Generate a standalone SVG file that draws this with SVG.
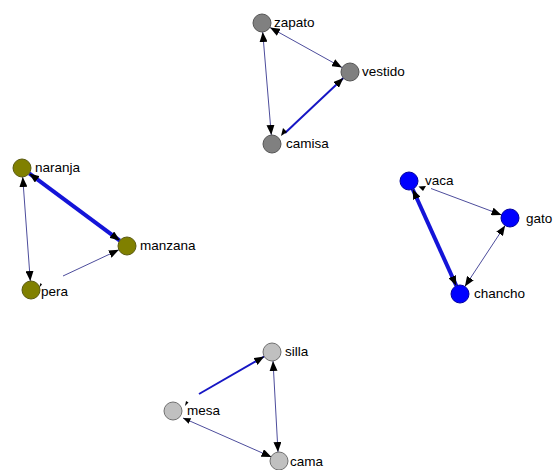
<svg xmlns="http://www.w3.org/2000/svg" width="557" height="470" viewBox="0 0 557 470">
  <defs>
    <marker id="arr" viewBox="0 0 10 8" refX="10" refY="4" markerWidth="10" markerHeight="8" markerUnits="userSpaceOnUse" orient="auto-start-reverse">
      <path d="M0,0 L10,4 L0,8 Z" fill="#000"/>
    </marker>
    <marker id="arrs" viewBox="0 0 10 8" refX="10" refY="4" markerWidth="8" markerHeight="6" markerUnits="userSpaceOnUse" orient="auto-start-reverse">
      <path d="M0,0 L10,4 L0,8 Z" fill="#000"/>
    </marker>
  </defs>
  <style>
    .thin { stroke: #4d4d9c; stroke-width: 1; fill: none; }
    .mid { stroke: #1616c4; stroke-width: 2; fill: none; }
    .thick { stroke: #1414d8; stroke-width: 4; fill: none; }
    .tick { fill: #000; }
    .n { stroke: #555; stroke-width: 1; }
    .gray { fill: #808080; }
    .olive { fill: #808000; stroke: #5a5a10; }
    .blue { fill: #0000ff; stroke: #0000a0; }
    .light { fill: #c0c0c0; stroke: #707070; }
    text { font-family: "Liberation Sans", Arial, sans-serif; font-size: 13.5px; fill: #000; }
  </style>
  <rect width="557" height="470" fill="#fff"/>

  <g id="connectors">
    <!-- clothing triad -->
    <line class="thin" x1="270" y1="27.5" x2="342" y2="67.5" marker-start="url(#arr)" marker-end="url(#arr)"/>
    <line class="thin" x1="262.7" y1="32" x2="271.3" y2="135" marker-start="url(#arr)" marker-end="url(#arr)"/>
    <line class="mid" x1="285" y1="133" x2="343.4" y2="78.1" marker-end="url(#arr)"/>
    <polygon class="tick" points="281,136 283,128 287,132"/>
    <!-- fruit triad -->
    <line class="thick" x1="29.2" y1="173.4" x2="119.8" y2="240.6" marker-start="url(#arr)" marker-end="url(#arr)"/>
    <line class="thin" x1="22.7" y1="177" x2="30.3" y2="281" marker-start="url(#arr)" marker-end="url(#arr)"/>
    <line class="thin" x1="63" y1="276" x2="118.9" y2="249.8" marker-end="url(#arr)"/>
    <polygon class="tick" points="39,288 40.5,283 42,284.5"/>
    <!-- animal triad -->
    <line class="thin" x1="431" y1="188.5" x2="501.5" y2="214.9" marker-end="url(#arr)"/>
    <polygon class="tick" points="418.5,186.5 426,186 423,191"/>
    <line class="thick" x1="412.7" y1="189.2" x2="456.3" y2="285.8" marker-start="url(#arr)" marker-end="url(#arr)"/>
    <line class="thin" x1="464.9" y1="286.5" x2="505.1" y2="225.5" marker-start="url(#arr)" marker-end="url(#arr)"/>
    <!-- furniture triad -->
    <line class="mid" x1="199" y1="394" x2="264.2" y2="356.5" marker-end="url(#arr)"/>
    <polygon class="tick" points="185,406 186,401 188.5,402.5"/>
    <line class="thin" x1="183" y1="418" x2="271.5" y2="457" marker-start="url(#arrs)" marker-end="url(#arr)"/>
    <line class="thin" x1="273" y1="361" x2="278" y2="452" marker-start="url(#arr)" marker-end="url(#arr)"/>
  </g>

  <g id="zapato"><circle class="n gray" cx="262" cy="23" r="9"/><text x="274" y="27">zapato</text></g>
  <g id="vestido"><circle class="n gray" cx="350" cy="72" r="9"/><text x="362" y="76">vestido</text></g>
  <g id="camisa"><circle class="n gray" cx="272" cy="144" r="9"/><text x="286" y="148">camisa</text></g>

  <g id="naranja"><circle class="olive" cx="22" cy="168" r="9"/><text x="35" y="172">naranja</text></g>
  <g id="manzana"><circle class="olive" cx="127" cy="246" r="9"/><text x="140" y="250">manzana</text></g>
  <g id="pera"><circle class="olive" cx="31" cy="290" r="9"/><text x="41" y="296">pera</text></g>

  <g id="vaca"><circle class="blue" cx="409" cy="181" r="9"/><text x="425" y="185">vaca</text></g>
  <g id="gato"><circle class="blue" cx="510" cy="218" r="9"/><text x="526" y="223">gato</text></g>
  <g id="chancho"><circle class="blue" cx="460" cy="294" r="9"/><text x="474" y="298">chancho</text></g>

  <g id="silla"><circle class="light" cx="272" cy="352" r="9"/><text x="285" y="356">silla</text></g>
  <g id="mesa"><circle class="light" cx="173" cy="411" r="9"/><text x="187" y="415">mesa</text></g>
  <g id="cama"><circle class="light" cx="279" cy="461" r="9"/><text x="290" y="466">cama</text></g>
</svg>
